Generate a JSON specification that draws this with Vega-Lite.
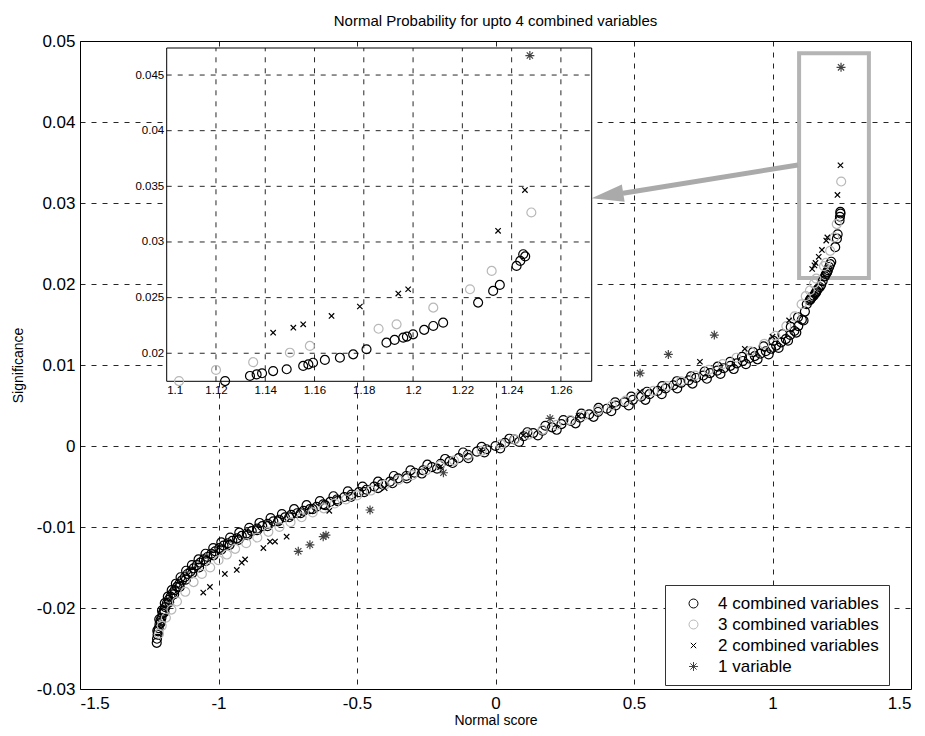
{
  "$schema": "https://vega.github.io/schema/vega-lite/v6.json",
  "width": 831,
  "height": 648,
  "autosize": "none",
  "padding": {"left": 80, "top": 41, "right": 14, "bottom": 47},
  "background": "white",
  "title": {"text": "Normal Probability for upto 4 combined variables", "fontSize": 15, "fontWeight": "normal", "font": "Liberation Sans", "offset": 3, "anchor": "middle", "color": "#000"},
  "config": {
    "font": "Liberation Sans",
    "view": {"stroke": "#000", "strokeWidth": 1},
    "axis": {"labelColor": "#000", "titleColor": "#000", "titleFontWeight": "normal", "domainColor": "#000", "tickColor": "#000"}
  },
  "datasets": {
    "pts": [
      {"g":"4","x":-1.223,"y":-0.0243},{"g":"4","x":-1.222,"y":-0.0238},{"g":"4","x":-1.22,"y":-0.0233},{"g":"4","x":-1.218,"y":-0.0229},{"g":"4","x":-1.216,"y":-0.0225},{"g":"4","x":-1.213,"y":-0.022},{"g":"4","x":-1.21,"y":-0.0216},{"g":"4","x":-1.206,"y":-0.0212},{"g":"4","x":-1.202,"y":-0.0207},{"g":"4","x":-1.197,"y":-0.0203},{"g":"4","x":-1.192,"y":-0.0199},{"g":"4","x":-1.186,"y":-0.0194},{"g":"4","x":-1.18,"y":-0.019},{"g":"4","x":-1.173,"y":-0.0186},{"g":"4","x":-1.166,"y":-0.0182},{"g":"4","x":-1.158,"y":-0.0178},{"g":"4","x":-1.15,"y":-0.0174},{"g":"4","x":-1.141,"y":-0.017},{"g":"4","x":-1.132,"y":-0.0166},{"g":"4","x":-1.122,"y":-0.0162},{"g":"4","x":-1.112,"y":-0.0158},{"g":"4","x":-1.101,"y":-0.0155},{"g":"4","x":-1.09,"y":-0.0151},{"g":"4","x":-1.078,"y":-0.0147},{"g":"4","x":-1.066,"y":-0.0144},{"g":"4","x":-1.053,"y":-0.014},{"g":"4","x":-1.04,"y":-0.0137},{"g":"4","x":-1.026,"y":-0.0133},{"g":"4","x":-1.012,"y":-0.013},{"g":"4","x":-0.997,"y":-0.0126},{"g":"4","x":-0.982,"y":-0.0123},{"g":"4","x":-0.966,"y":-0.012},{"g":"4","x":-0.95,"y":-0.0117},{"g":"4","x":-0.933,"y":-0.0114},{"g":"4","x":-0.916,"y":-0.0111},{"g":"4","x":-0.898,"y":-0.0108},{"g":"4","x":-0.88,"y":-0.0105},{"g":"4","x":-0.861,"y":-0.0102},{"g":"4","x":-0.842,"y":-0.0099},{"g":"4","x":-0.822,"y":-0.0096},{"g":"4","x":-0.802,"y":-0.0093},{"g":"4","x":-0.781,"y":-0.0091},{"g":"4","x":-0.76,"y":-0.0088},{"g":"4","x":-0.738,"y":-0.0085},{"g":"4","x":-0.716,"y":-0.0083},{"g":"4","x":-0.693,"y":-0.008},{"g":"4","x":-0.67,"y":-0.0078},{"g":"4","x":-0.646,"y":-0.0075},{"g":"4","x":-0.622,"y":-0.0072},{"g":"4","x":-0.597,"y":-0.0069},{"g":"4","x":-0.572,"y":-0.0066},{"g":"4","x":-0.546,"y":-0.0063},{"g":"4","x":-0.52,"y":-0.006},{"g":"4","x":-0.493,"y":-0.0057},{"g":"4","x":-0.466,"y":-0.0054},{"g":"4","x":-0.438,"y":-0.005},{"g":"4","x":-0.41,"y":-0.0047},{"g":"4","x":-0.381,"y":-0.0044},{"g":"4","x":-0.352,"y":-0.004},{"g":"4","x":-0.322,"y":-0.0037},{"g":"4","x":-0.292,"y":-0.0033},{"g":"4","x":-0.261,"y":-0.003},{"g":"4","x":-0.23,"y":-0.0026},{"g":"4","x":-0.198,"y":-0.0022},{"g":"4","x":-0.166,"y":-0.0019},{"g":"4","x":-0.133,"y":-0.0015},{"g":"4","x":-0.1,"y":-0.0011},{"g":"4","x":-0.067,"y":-0.0007},{"g":"4","x":-0.033,"y":-0.0004},{"g":"4","x":0.0,"y":0.0},{"g":"4","x":0.034,"y":0.0004},{"g":"4","x":0.068,"y":0.0008},{"g":"4","x":0.102,"y":0.0012},{"g":"4","x":0.136,"y":0.0016},{"g":"4","x":0.17,"y":0.0019},{"g":"4","x":0.204,"y":0.0023},{"g":"4","x":0.238,"y":0.0027},{"g":"4","x":0.272,"y":0.0031},{"g":"4","x":0.305,"y":0.0035},{"g":"4","x":0.338,"y":0.0039},{"g":"4","x":0.37,"y":0.0042},{"g":"4","x":0.402,"y":0.0046},{"g":"4","x":0.434,"y":0.005},{"g":"4","x":0.465,"y":0.0054},{"g":"4","x":0.496,"y":0.0057},{"g":"4","x":0.526,"y":0.0061},{"g":"4","x":0.556,"y":0.0064},{"g":"4","x":0.585,"y":0.0068},{"g":"4","x":0.614,"y":0.0071},{"g":"4","x":0.642,"y":0.0075},{"g":"4","x":0.67,"y":0.0078},{"g":"4","x":0.697,"y":0.0081},{"g":"4","x":0.724,"y":0.0084},{"g":"4","x":0.75,"y":0.0087},{"g":"4","x":0.775,"y":0.009},{"g":"4","x":0.8,"y":0.0093},{"g":"4","x":0.824,"y":0.0096},{"g":"4","x":0.848,"y":0.0099},{"g":"4","x":0.871,"y":0.0102},{"g":"4","x":0.893,"y":0.0105},{"g":"4","x":0.915,"y":0.0108},{"g":"4","x":0.936,"y":0.0111},{"g":"4","x":0.956,"y":0.0114},{"g":"4","x":0.976,"y":0.0117},{"g":"4","x":0.995,"y":0.012},{"g":"4","x":1.013,"y":0.0124},{"g":"4","x":1.031,"y":0.0128},{"g":"4","x":1.048,"y":0.0132},{"g":"4","x":1.064,"y":0.0137},{"g":"4","x":1.079,"y":0.0142},{"g":"4","x":1.093,"y":0.0148},{"g":"4","x":1.106,"y":0.0156},{"g":"4","x":1.117,"y":0.0166},
      {"g":"4","x":-1.221,"y":-0.0228},{"g":"4","x":-1.214,"y":-0.0214},{"g":"4","x":-1.204,"y":-0.0203},{"g":"4","x":-1.194,"y":-0.0194},{"g":"4","x":-1.183,"y":-0.0186},{"g":"4","x":-1.169,"y":-0.0178},{"g":"4","x":-1.154,"y":-0.017},{"g":"4","x":-1.137,"y":-0.0162},{"g":"4","x":-1.117,"y":-0.0154},{"g":"4","x":-1.096,"y":-0.0147},{"g":"4","x":-1.072,"y":-0.014},{"g":"4","x":-1.047,"y":-0.0133},{"g":"4","x":-1.019,"y":-0.0126},{"g":"4","x":-0.99,"y":-0.0119},{"g":"4","x":-0.958,"y":-0.0113},{"g":"4","x":-0.925,"y":-0.0107},{"g":"4","x":-0.889,"y":-0.0101},{"g":"4","x":-0.852,"y":-0.0095},{"g":"4","x":-0.812,"y":-0.0089},{"g":"4","x":-0.771,"y":-0.0084},{"g":"4","x":-0.727,"y":-0.0078},{"g":"4","x":-0.682,"y":-0.0073},{"g":"4","x":-0.634,"y":-0.0068},{"g":"4","x":-0.585,"y":-0.0062},{"g":"4","x":-0.533,"y":-0.0056},{"g":"4","x":-0.48,"y":-0.005},{"g":"4","x":-0.424,"y":-0.0044},{"g":"4","x":-0.367,"y":-0.0037},{"g":"4","x":-0.307,"y":-0.003},{"g":"4","x":-0.246,"y":-0.0023},{"g":"4","x":-0.182,"y":-0.0016},{"g":"4","x":-0.117,"y":-0.0008},{"g":"4","x":-0.05,"y":-0.0001},
      {"g":"4","x":-1.208,"y":-0.0218},{"g":"4","x":-1.195,"y":-0.0205},{"g":"4","x":-1.178,"y":-0.0193},{"g":"4","x":-1.16,"y":-0.0183},{"g":"4","x":-1.14,"y":-0.0174},{"g":"4","x":-1.118,"y":-0.0165},{"g":"4","x":-1.095,"y":-0.0157},{"g":"4","x":-1.07,"y":-0.015},{"g":"4","x":-1.045,"y":-0.0142},{"g":"4","x":-1.018,"y":-0.0135},{"g":"4","x":-0.99,"y":-0.0128},{"g":"4","x":-0.96,"y":-0.0122},{"g":"4","x":-0.928,"y":-0.0116},{"g":"4","x":-0.895,"y":-0.011},{"g":"4","x":-0.86,"y":-0.0104},{"g":"4","x":-0.823,"y":-0.0099},{"g":"4","x":-0.785,"y":-0.0093},{"g":"4","x":-0.745,"y":-0.0088},{"g":"4","x":-0.703,"y":-0.0083},{"g":"4","x":-0.66,"y":-0.0078},{"g":"4","x":-0.615,"y":-0.0073},{"g":"4","x":-0.57,"y":-0.0068},{"g":"4","x":-0.522,"y":-0.0063},{"g":"4","x":-0.474,"y":-0.0057},{"g":"4","x":-0.424,"y":-0.0052},{"g":"4","x":-0.372,"y":-0.0046},{"g":"4","x":-0.32,"y":-0.004},{"g":"4","x":-0.266,"y":-0.0034},{"g":"4","x":-0.211,"y":-0.0028},{"g":"4","x":-0.155,"y":-0.0021},{"g":"4","x":-0.098,"y":-0.0015},{"g":"4","x":-0.04,"y":-0.0008},
      {"g":"4","x":0.017,"y":-0.0003},{"g":"4","x":0.085,"y":0.0005},{"g":"4","x":0.153,"y":0.0013},{"g":"4","x":0.221,"y":0.002},{"g":"4","x":0.289,"y":0.0028},{"g":"4","x":0.354,"y":0.0036},{"g":"4","x":0.418,"y":0.0043},{"g":"4","x":0.481,"y":0.005},{"g":"4","x":0.541,"y":0.0057},{"g":"4","x":0.6,"y":0.0064},{"g":"4","x":0.656,"y":0.0071},{"g":"4","x":0.711,"y":0.0077},{"g":"4","x":0.763,"y":0.0083},{"g":"4","x":0.812,"y":0.0089},{"g":"4","x":0.86,"y":0.0095},{"g":"4","x":0.904,"y":0.0101},{"g":"4","x":0.946,"y":0.0107},{"g":"4","x":0.986,"y":0.0113},{"g":"4","x":1.022,"y":0.0121},{"g":"4","x":1.056,"y":0.013},{"g":"4","x":1.086,"y":0.014},{"g":"4","x":1.112,"y":0.0155},
      {"g":"4","x":0.05,"y":0.0009},{"g":"4","x":0.115,"y":0.0017},{"g":"4","x":0.18,"y":0.0025},{"g":"4","x":0.245,"y":0.0032},{"g":"4","x":0.31,"y":0.004},{"g":"4","x":0.372,"y":0.0047},{"g":"4","x":0.432,"y":0.0054},{"g":"4","x":0.49,"y":0.0061},{"g":"4","x":0.547,"y":0.0067},{"g":"4","x":0.602,"y":0.0074},{"g":"4","x":0.655,"y":0.008},{"g":"4","x":0.706,"y":0.0086},{"g":"4","x":0.755,"y":0.0092},{"g":"4","x":0.802,"y":0.0098},{"g":"4","x":0.847,"y":0.0104},{"g":"4","x":0.89,"y":0.011},{"g":"4","x":0.93,"y":0.0116},{"g":"4","x":0.968,"y":0.0123},{"g":"4","x":1.003,"y":0.013},{"g":"4","x":1.036,"y":0.0138},{"g":"4","x":1.066,"y":0.0147},{"g":"4","x":1.092,"y":0.0159},
      {"g":"4","x":1.1237,"y":0.0175},{"g":"4","x":1.1338,"y":0.01796},{"g":"4","x":1.1365,"y":0.0181},{"g":"4","x":1.1387,"y":0.0182},{"g":"4","x":1.1432,"y":0.0184},{"g":"4","x":1.1487,"y":0.01856},{"g":"4","x":1.1554,"y":0.01886},{"g":"4","x":1.1575,"y":0.019},{"g":"4","x":1.1594,"y":0.01915},{"g":"4","x":1.1642,"y":0.0194},{"g":"4","x":1.1703,"y":0.0196},{"g":"4","x":1.1757,"y":0.0199},{"g":"4","x":1.1811,"y":0.02036},{"g":"4","x":1.1892,"y":0.02095},{"g":"4","x":1.1925,"y":0.0212},{"g":"4","x":1.196,"y":0.0214},{"g":"4","x":1.1975,"y":0.0215},{"g":"4","x":1.2,"y":0.0217},{"g":"4","x":1.2045,"y":0.0221},{"g":"4","x":1.2082,"y":0.02245},{"g":"4","x":1.2122,"y":0.02275},{"g":"4","x":1.2264,"y":0.02455},{"g":"4","x":1.2325,"y":0.0256},{"g":"4","x":1.2352,"y":0.02614},{"g":"4","x":1.242,"y":0.02785},{"g":"4","x":1.2435,"y":0.0283},{"g":"4","x":1.2455,"y":0.0287},{"g":"4","x":1.2447,"y":0.0289},
      {"g":"3","x":-1.215,"y":-0.0232},{"g":"3","x":-1.205,"y":-0.0222},{"g":"3","x":-1.19,"y":-0.0212},{"g":"3","x":-1.17,"y":-0.0202},{"g":"3","x":-1.15,"y":-0.0192},{"g":"3","x":-1.12,"y":-0.018},{"g":"3","x":-1.09,"y":-0.0168},{"g":"3","x":-1.06,"y":-0.0158},{"g":"3","x":-1.03,"y":-0.015},{"g":"3","x":-1.0,"y":-0.0141},{"g":"3","x":-0.97,"y":-0.0134},{"g":"3","x":-0.94,"y":-0.0127},{"g":"3","x":-0.9,"y":-0.012},{"g":"3","x":-0.86,"y":-0.0113},{"g":"3","x":-0.82,"y":-0.0106},{"g":"3","x":-0.78,"y":-0.01},{"g":"3","x":-0.74,"y":-0.0094},{"g":"3","x":-0.7,"y":-0.0088},{"g":"3","x":-0.66,"y":-0.0082},{"g":"3","x":-0.62,"y":-0.0077},{"g":"3","x":-0.58,"y":-0.0071},{"g":"3","x":-0.54,"y":-0.0066},{"g":"3","x":-0.5,"y":-0.0061},{"g":"3","x":-0.45,"y":-0.0055},{"g":"3","x":-0.4,"y":-0.0048},{"g":"3","x":-0.35,"y":-0.0042},{"g":"3","x":-0.3,"y":-0.0036},{"g":"3","x":-0.25,"y":-0.003},{"g":"3","x":-0.2,"y":-0.0024},{"g":"3","x":-0.15,"y":-0.0018},{"g":"3","x":-0.1,"y":-0.0012},{"g":"3","x":-0.05,"y":-0.0006},{"g":"3","x":0.02,"y":0.0002},{"g":"3","x":0.07,"y":0.0008},{"g":"3","x":0.12,"y":0.0014},{"g":"3","x":0.17,"y":0.002},{"g":"3","x":0.22,"y":0.0026},{"g":"3","x":0.27,"y":0.0032},{"g":"3","x":0.32,"y":0.0038},{"g":"3","x":0.37,"y":0.0044},{"g":"3","x":0.42,"y":0.005},{"g":"3","x":0.47,"y":0.0056},{"g":"3","x":0.52,"y":0.0062},{"g":"3","x":0.57,"y":0.0068},{"g":"3","x":0.62,"y":0.0074},{"g":"3","x":0.67,"y":0.008},{"g":"3","x":0.72,"y":0.0087},{"g":"3","x":0.77,"y":0.0094},{"g":"3","x":0.82,"y":0.0101},{"g":"3","x":0.87,"y":0.0109},{"g":"3","x":0.92,"y":0.0117},{"g":"3","x":0.97,"y":0.0126},{"g":"3","x":1.01,"y":0.0136},{"g":"3","x":1.05,"y":0.0148},{"g":"3","x":1.08,"y":0.016},{"g":"3","x":1.105,"y":0.0175},{"g":"3","x":1.12,"y":0.0185},
      {"g":"3","x":1.1351,"y":0.0192},{"g":"3","x":1.15,"y":0.02005},{"g":"3","x":1.1581,"y":0.02066},{"g":"3","x":1.186,"y":0.0222},{"g":"3","x":1.1933,"y":0.0226},{"g":"3","x":1.2082,"y":0.0241},{"g":"3","x":1.2231,"y":0.02575},{"g":"3","x":1.2319,"y":0.0274},{"g":"3","x":1.248,"y":0.03265},
      {"g":"2","x":-1.055,"y":-0.0181},{"g":"2","x":-1.031,"y":-0.0174},{"g":"2","x":-0.977,"y":-0.0158},{"g":"2","x":-0.934,"y":-0.0153},{"g":"2","x":-0.916,"y":-0.0144},{"g":"2","x":-0.904,"y":-0.014},{"g":"2","x":-0.838,"y":-0.0126},{"g":"2","x":-0.814,"y":-0.0118},{"g":"2","x":-0.796,"y":-0.0118},{"g":"2","x":-0.754,"y":-0.0112},{"g":"2","x":-0.6,"y":-0.008},{"g":"2","x":-0.4,"y":-0.0052},{"g":"2","x":-0.2,"y":-0.0026},{"g":"2","x":0.1,"y":0.0013},{"g":"2","x":0.3,"y":0.0037},{"g":"2","x":0.522,"y":0.0067},{"g":"2","x":0.738,"y":0.0104},{"g":"2","x":0.9,"y":0.012},{"g":"2","x":1.0,"y":0.0135},{"g":"2","x":1.06,"y":0.0155},
      {"g":"2","x":1.1432,"y":0.02185},{"g":"2","x":1.1514,"y":0.0223},{"g":"2","x":1.1554,"y":0.0226},{"g":"2","x":1.1669,"y":0.02335},{"g":"2","x":1.1784,"y":0.0242},{"g":"2","x":1.194,"y":0.02536},{"g":"2","x":1.198,"y":0.02575},{"g":"2","x":1.2345,"y":0.031},{"g":"2","x":1.2454,"y":0.03466},
      {"g":"1","x":-0.712,"y":-0.013},{"g":"1","x":-0.67,"y":-0.0122},{"g":"1","x":-0.622,"y":-0.0112},{"g":"1","x":-0.612,"y":-0.011},{"g":"1","x":-0.453,"y":-0.0079},{"g":"1","x":-0.188,"y":-0.0033},{"g":"1","x":0.197,"y":0.0034},{"g":"1","x":0.522,"y":0.009},{"g":"1","x":0.624,"y":0.0113},{"g":"1","x":0.79,"y":0.0137},{"g":"1","x":1.2474,"y":0.04675}
    ]
  },
  "layer": [
    {
      "layer": [
        {
          "data": {"values": [{"x": 1.096, "x2": 1.348, "y": 0.02074, "y2": 0.04848}]},
          "mark": {"type": "rect", "fill": "white", "fillOpacity": 0, "stroke": "#b4b4b4", "strokeWidth": 4},
          "encoding": {
            "x": {"field": "x", "type": "quantitative", "scale": {"domain": [-1.5, 1.5], "nice": false, "zero": false},
                  "axis": {"values": [-1.5, -1, -0.5, 0, 0.5, 1, 1.5], "labelExpr": "replace(format(datum.value, '~f'), '−', '-')", "labelFontSize": 17, "labelPadding": 6, "ticks": false, "domain": false, "grid": true, "gridColor": "#000", "gridDash": [5, 6], "gridOpacity": 0.85, "title": "Normal score", "titleFontSize": 14, "titlePadding": 2}},
            "x2": {"field": "x2"},
            "y": {"field": "y", "type": "quantitative", "scale": {"domain": [-0.03, 0.05], "nice": false, "zero": false},
                  "axis": {"values": [-0.03, -0.02, -0.01, 0, 0.01, 0.02, 0.03, 0.04, 0.05], "labelExpr": "replace(format(datum.value, '~f'), '−', '-')", "labelFontSize": 17, "labelPadding": 5, "ticks": false, "domain": false, "grid": true, "gridColor": "#000", "gridDash": [5, 6], "gridOpacity": 0.85, "title": "Significance", "titleFontSize": 14, "titlePadding": 11}},
            "y2": {"field": "y2"}
          }
        },
        {
          "data": {"values": [{"x": 1.092, "y": 0.0347, "x2": 0.46, "y2": 0.0312}]},
          "mark": {"type": "rule", "color": "#aaaaaa", "strokeWidth": 5},
          "encoding": {"x": {"field": "x", "type": "quantitative"}, "y": {"field": "y", "type": "quantitative"}, "x2": {"field": "x2"}, "y2": {"field": "y2"}}
        },
        {
          "data": {"values": [{"x": 0.347, "y": 0.0306}]},
          "mark": {"type": "point", "shape": "M0,0L2,-0.55L2,0.55Z", "filled": true, "color": "#aaaaaa", "opacity": 1, "size": 1024, "angle": 351},
          "encoding": {"x": {"field": "x", "type": "quantitative"}, "y": {"field": "y", "type": "quantitative"}}
        },
        {
          "data": {"name": "pts"},
          "mark": {"type": "point", "filled": false, "strokeWidth": 1.2, "opacity": 1},
          "encoding": {
            "x": {"field": "x", "type": "quantitative"},
            "y": {"field": "y", "type": "quantitative"},
            "shape": {"field": "g", "type": "nominal", "scale": {"domain": ["4", "3", "2", "1"], "range": ["circle", "circle", "M-0.6,-0.6L0.6,0.6M-0.6,0.6L0.6,-0.6", "M-1,0L1,0M0,-1L0,1M-0.7,-0.7L0.7,0.7M-0.7,0.7L0.7,-0.7"]},
              "legend": {"title": null, "orient": "none", "legendX": 585, "legendY": 544, "fillColor": "white", "strokeColor": "#333", "padding": 10, "labelFontSize": 17, "labelLimit": 400, "labelColor": "#000", "labelExpr": "datum.label == '1' ? '1 variable' : datum.label + ' combined variables'", "symbolSize": 90, "symbolStrokeWidth": 1, "rowPadding": 3, "symbolOffset": 10, "labelOffset": 16}},
            "color": {"field": "g", "type": "nominal", "scale": {"domain": ["4", "3", "2", "1"], "range": ["#000000", "#b8b8b8", "#000000", "#444444"]},
              "legend": {"title": null, "orient": "none", "legendX": 585, "legendY": 544, "fillColor": "white", "strokeColor": "#333", "padding": 10, "labelFontSize": 17, "labelLimit": 400, "labelColor": "#000", "labelExpr": "datum.label == '1' ? '1 variable' : datum.label + ' combined variables'", "symbolSize": 90, "symbolStrokeWidth": 1, "rowPadding": 3, "symbolOffset": 10, "labelOffset": 16}},
            "size": {"field": "g", "type": "nominal", "scale": {"domain": ["4", "3", "2", "1"], "range": [80, 80, 40, 110]}, "legend": null}
          }
        }
      ]
    },
    {
      "layer": [
        {
          "data": {"values": [{"x": 1.1, "x2": 1.2725, "y": 0.01748, "y2": 0.04743}]},
          "mark": {"type": "rect", "fill": "white", "stroke": "#000", "strokeWidth": 1},
          "encoding": {
            "x": {"field": "x", "type": "quantitative", "scale": {"domain": [1.1, 1.2725], "range": [86.7, 511.7], "nice": false, "zero": false},
                  "axis": {"orient": "bottom", "offset": -307.7, "values": [1.1, 1.12, 1.14, 1.16, 1.18, 1.2, 1.22, 1.24, 1.26], "labelExpr": "format(datum.value, '~f')", "labelFontSize": 11.5, "labelPadding": 3, "ticks": false, "domain": false, "grid": false, "title": null}},
            "x2": {"field": "x2"},
            "y": {"field": "y", "type": "quantitative", "scale": {"domain": [0.01748, 0.04743], "range": [340.3, 7], "nice": false, "zero": false},
                  "axis": {"orient": "left", "offset": -86.7, "values": [0.02, 0.025, 0.03, 0.035, 0.04, 0.045], "labelExpr": "format(datum.value, '~f')", "labelFontSize": 11.5, "labelPadding": 3, "ticks": false, "domain": false, "grid": false, "title": null}},
            "y2": {"field": "y2"}
          }
        },
        {
          "data": {"values": [{"x": 1.12}, {"x": 1.14}, {"x": 1.16}, {"x": 1.18}, {"x": 1.2}, {"x": 1.22}, {"x": 1.24}, {"x": 1.26}]},
          "mark": {"type": "rule", "color": "#000", "strokeDash": [5, 6], "strokeWidth": 1, "opacity": 0.85},
          "encoding": {"x": {"field": "x", "type": "quantitative"}, "y": {"datum": 0.01748}, "y2": {"datum": 0.04743}}
        },
        {
          "data": {"values": [{"y": 0.02}, {"y": 0.025}, {"y": 0.03}, {"y": 0.035}, {"y": 0.04}, {"y": 0.045}]},
          "mark": {"type": "rule", "color": "#000", "strokeDash": [5, 6], "strokeWidth": 1, "opacity": 0.85},
          "encoding": {"y": {"field": "y", "type": "quantitative"}, "x": {"datum": 1.1}, "x2": {"datum": 1.2725}}
        },
        {
          "data": {"name": "pts"},
          "transform": [{"filter": "datum.x >= 1.1 && datum.y >= 0.0172"}],
          "mark": {"type": "point", "filled": false, "strokeWidth": 1.2, "opacity": 1},
          "encoding": {
            "x": {"field": "x", "type": "quantitative"},
            "y": {"field": "y", "type": "quantitative"},
            "shape": {"field": "g", "type": "nominal", "legend": null},
            "color": {"field": "g", "type": "nominal", "legend": null},
            "size": {"field": "g", "type": "nominal", "legend": null}
          }
        }
      ]
    }
  ],
  "resolve": {"scale": {"x": "independent", "y": "independent"}}
}
